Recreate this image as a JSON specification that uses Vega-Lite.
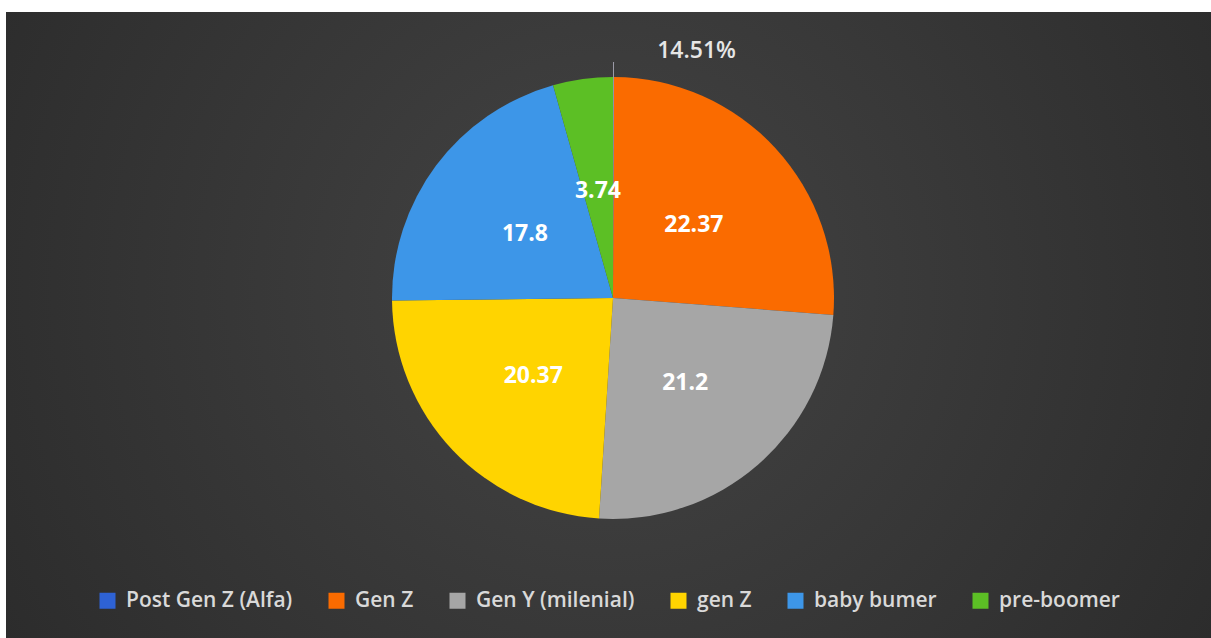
{
  "$schema": "https://vega.github.io/schema/vega-lite/v6.json",
  "width": 1211,
  "height": 638,
  "autosize": {"type": "fit", "contains": "padding"},
  "padding": {"left": 6, "top": 12, "right": 0, "bottom": 0},
  "background": "white",
  "config": {
    "view": {"stroke": null},
    "font": "Open Sans"
  },
  "datasets": {
    "gens": [
      {"gen": "Post Gen Z (Alfa)", "value": 0.06, "label": "14.51%", "rank": 1},
      {"gen": "Gen Z", "value": 22.37, "label": "22.37", "rank": 2},
      {"gen": "Gen Y (milenial)", "value": 21.2, "label": "21.2", "rank": 3},
      {"gen": "gen Z", "value": 20.37, "label": "20.37", "rank": 4},
      {"gen": "baby bumer", "value": 17.8, "label": "17.8", "rank": 5},
      {"gen": "pre-boomer", "value": 3.74, "label": "3.74", "rank": 6}
    ]
  },
  "layer": [
    {
      "data": {"values": [{}]},
      "mark": {
        "type": "rect",
        "color": {
          "gradient": "radial",
          "x1": 0.5, "y1": 0.47, "r1": 0,
          "x2": 0.5, "y2": 0.47, "r2": 0.75,
          "stops": [
            {"offset": 0, "color": "#444444"},
            {"offset": 1, "color": "#252525"}
          ]
        }
      },
      "encoding": {}
    },
    {
      "data": {"name": "gens"},
      "mark": {"type": "arc", "outerRadius": 221, "xOffset": 4.5, "yOffset": -27},
      "encoding": {
        "theta": {"field": "value", "type": "quantitative", "stack": true},
        "order": {"field": "rank", "type": "quantitative"},
        "color": {
          "field": "gen",
          "type": "nominal",
          "sort": ["Post Gen Z (Alfa)", "Gen Z", "Gen Y (milenial)", "gen Z", "baby bumer", "pre-boomer"],
          "scale": {
            "domain": ["Post Gen Z (Alfa)", "Gen Z", "Gen Y (milenial)", "gen Z", "baby bumer", "pre-boomer"],
            "range": ["#2E62D4", "#FA6B00", "#A6A6A6", "#FFD400", "#3D96E8", "#5CBF25"]
          },
          "legend": {
            "title": null,
            "orient": "none",
            "direction": "horizontal",
            "legendX": 91,
            "legendY": 578,
            "symbolType": "square",
            "symbolSize": 256,
            "symbolStrokeWidth": 0,
            "symbolOpacity": 1,
            "labelFontSize": 21,
            "labelFontWeight": 600,
            "labelColor": "#d9d9d9",
            "labelOffset": 8,
            "columnPadding": 33,
            "labelLimit": 400
          }
        }
      }
    },
    {
      "data": {"name": "gens"},
      "mark": {"type": "arc", "outerRadius": 236, "xOffset": 4.5, "yOffset": -27, "color": "#9b9aa6"},
      "encoding": {
        "theta": {"field": "value", "type": "quantitative", "stack": true},
        "order": {"field": "rank", "type": "quantitative"},
        "opacity": {
          "condition": {"test": "datum.gen === 'Post Gen Z (Alfa)'", "value": 1},
          "value": 0
        }
      }
    },
    {
      "data": {"name": "gens"},
      "mark": {"type": "text", "radius": 110, "xOffset": 4.5, "yOffset": -25, "fontSize": 23, "fontWeight": "bold", "color": "#ffffff"},
      "encoding": {
        "theta": {"field": "value", "type": "quantitative", "stack": true},
        "order": {"field": "rank", "type": "quantitative"},
        "text": {
          "condition": {"test": "datum.gen !== 'Post Gen Z (Alfa)'", "field": "label"},
          "value": ""
        }
      }
    },
    {
      "data": {"name": "gens"},
      "mark": {"type": "text", "radius": 247, "xOffset": 4.5, "yOffset": -27, "dx": 83, "fontSize": 23, "fontWeight": 600, "color": "#e6e6e6"},
      "encoding": {
        "theta": {"field": "value", "type": "quantitative", "stack": true},
        "order": {"field": "rank", "type": "quantitative"},
        "text": {
          "condition": {"test": "datum.gen === 'Post Gen Z (Alfa)'", "field": "label"},
          "value": ""
        }
      }
    }
  ]
}
